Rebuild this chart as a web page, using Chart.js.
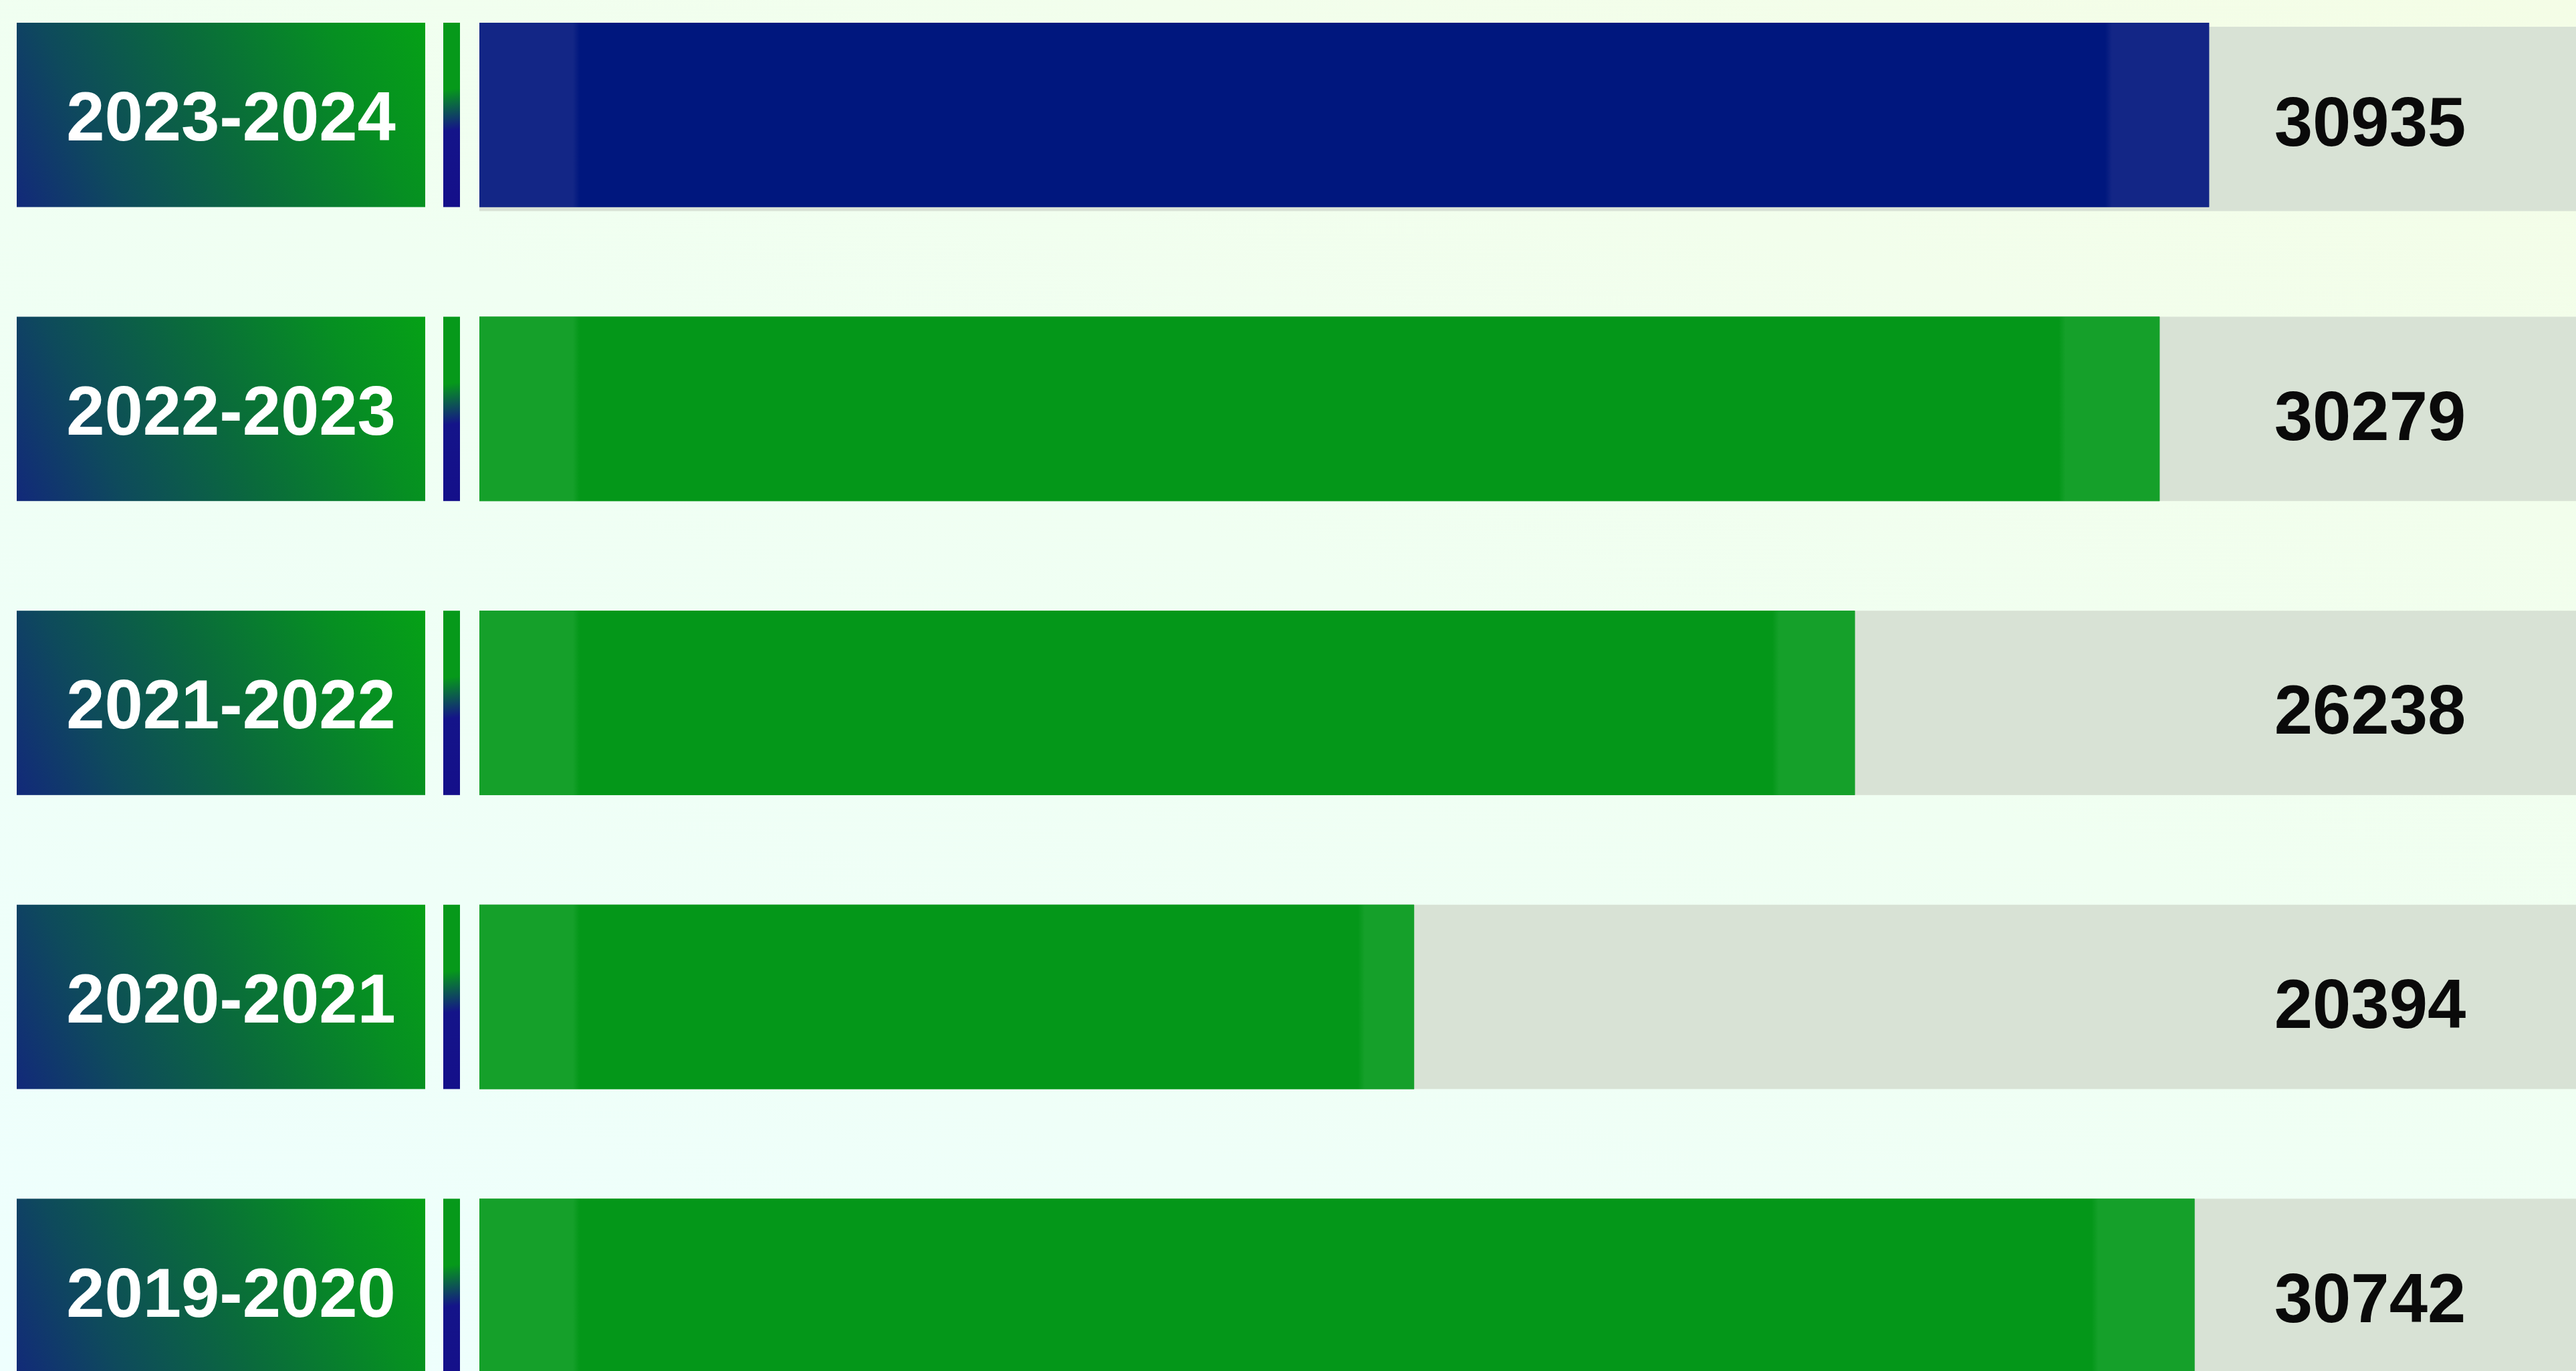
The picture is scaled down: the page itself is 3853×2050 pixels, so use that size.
<!DOCTYPE html>
<html>
<head>
<meta charset="utf-8">
<script src="https://cdn.jsdelivr.net/npm/chart.js@4/dist/chart.umd.min.js"></script>
<style>
  html, body { margin: 0; padding: 0; width: 3853px; height: 2050px; overflow: hidden; }
  body { position: relative; background: linear-gradient(200deg, #f4fde6 0%, #f0fff2 45%, #eefffe 100%); }
  #chart { position: absolute; left: 0; top: -48px; }
</style>
</head>
<body>
<canvas id="chart" width="3853" height="2198"></canvas>
<script>
  // Seasons top to bottom, with the number printed at the end of each row.
  var seasons = ["2023-2024", "2022-2023", "2021-2022", "2020-2021", "2019-2020"];
  var totals = [30935, 30279, 26238, 20394, 30742];
  var highlightSeason = "2023-2024";
  var axisMin = 8000, axisMax = 35800;

  var NAVY = "#00177e", NAVY_EDGE = "#132686";
  var GREEN = "#049719", GREEN_EDGE = "#15a02a";
  var TRACK = "#d8e2d5";
  var BOX_LEFT = 25, BOX_RIGHT = 636;
  var STRIPE_LEFT = 663, STRIPE_RIGHT = 688;
  var FONT = "bold 103px 'Liberation Sans', Arial, sans-serif";

  function barRect(bar) {
    var p = bar.getProps(["x", "y", "base", "height"], true);
    return { left: Math.min(p.base, p.x), right: Math.max(p.base, p.x), top: p.y - p.height / 2, h: p.height, y: p.y };
  }

  // Label box, thin stripe and grey track sit behind every bar.
  var rowDecor = {
    id: "rowDecor",
    beforeDatasetsDraw: function (chart) {
      var c = chart.ctx;
      var area = chart.chartArea;
      c.save();
      chart.getDatasetMeta(0).data.forEach(function (bar, i) {
        var r = barRect(bar);
        c.fillStyle = TRACK;
        c.fillRect(r.left, r.top + (i === 0 ? 6 : 0), area.right - r.left, r.h);

        var g = c.createLinearGradient(BOX_LEFT, r.top + r.h, BOX_RIGHT, r.top);
        g.addColorStop(0, "#12297a");
        g.addColorStop(0.22, "#0e4a5c");
        g.addColorStop(0.5, "#0a6a3c");
        g.addColorStop(0.8, "#068f22");
        g.addColorStop(1, "#05a116");
        c.fillStyle = g;
        c.fillRect(BOX_LEFT, r.top, BOX_RIGHT - BOX_LEFT, r.h);

        var s = c.createLinearGradient(STRIPE_LEFT, r.top, STRIPE_RIGHT + 10, r.top + r.h);
        s.addColorStop(0, "#06991a");
        s.addColorStop(0.36, "#06991a");
        s.addColorStop(0.58, "#141489");
        s.addColorStop(1, "#140f8a");
        c.fillStyle = s;
        c.fillRect(STRIPE_LEFT, r.top, STRIPE_RIGHT - STRIPE_LEFT, r.h);

        c.fillStyle = "#ffffff";
        c.font = FONT;
        c.textAlign = "center";
        c.textBaseline = "middle";
        c.fillText(chart.data.labels[i], (BOX_LEFT + BOX_RIGHT) / 2 + 15, r.y + 10);
      });
      c.restore();
    },
    afterDatasetsDraw: function (chart) {
      var c = chart.ctx;
      var area = chart.chartArea;
      var ds = chart.data.datasets[0];
      c.save();
      chart.getDatasetMeta(0).data.forEach(function (bar, i) {
        var r = barRect(bar);
        var len = r.right - r.left;
        var hi = chart.data.labels[i] === highlightSeason;
        var main = hi ? NAVY : GREEN, edge = hi ? NAVY_EDGE : GREEN_EDGE;
        var lz = 150 / len, rz = 0.06;
        var g = c.createLinearGradient(r.left, 0, r.right, 0);
        g.addColorStop(0, edge);
        g.addColorStop(lz - 10 / len, edge);
        g.addColorStop(lz, main);
        g.addColorStop(1 - rz, main);
        g.addColorStop(1 - rz + 10 / len, edge);
        g.addColorStop(1, edge);
        c.fillStyle = g;
        c.fillRect(r.left, r.top, len, r.h);

        c.fillStyle = "#0a0a0a";
        c.font = FONT;
        c.textAlign = "center";
        c.textBaseline = "middle";
        c.fillText(String(ds.data[i]), area.right - 308, r.y + 18);
      });
      c.restore();
    }
  };

  new Chart(document.getElementById("chart").getContext("2d"), {
    type: "bar",
    plugins: [rowDecor],
    data: {
      labels: seasons,
      datasets: [{
        data: totals,
        base: axisMin,
        backgroundColor: seasons.map(function (s) { return s === highlightSeason ? NAVY : GREEN; }),
        borderWidth: 0,
        categoryPercentage: 1,
        barPercentage: 0.627
      }]
    },
    options: {
      indexAxis: "y",
      responsive: false,
      animation: false,
      layout: { padding: { left: 717, right: 0, top: 0, bottom: 0 } },
      plugins: { legend: { display: false }, tooltip: { enabled: false } },
      scales: {
        x: { type: "linear", min: axisMin, max: axisMax, display: false, grid: { display: false } },
        y: { type: "category", display: false, grid: { display: false } }
      }
    }
  });
</script>
</body>
</html>
